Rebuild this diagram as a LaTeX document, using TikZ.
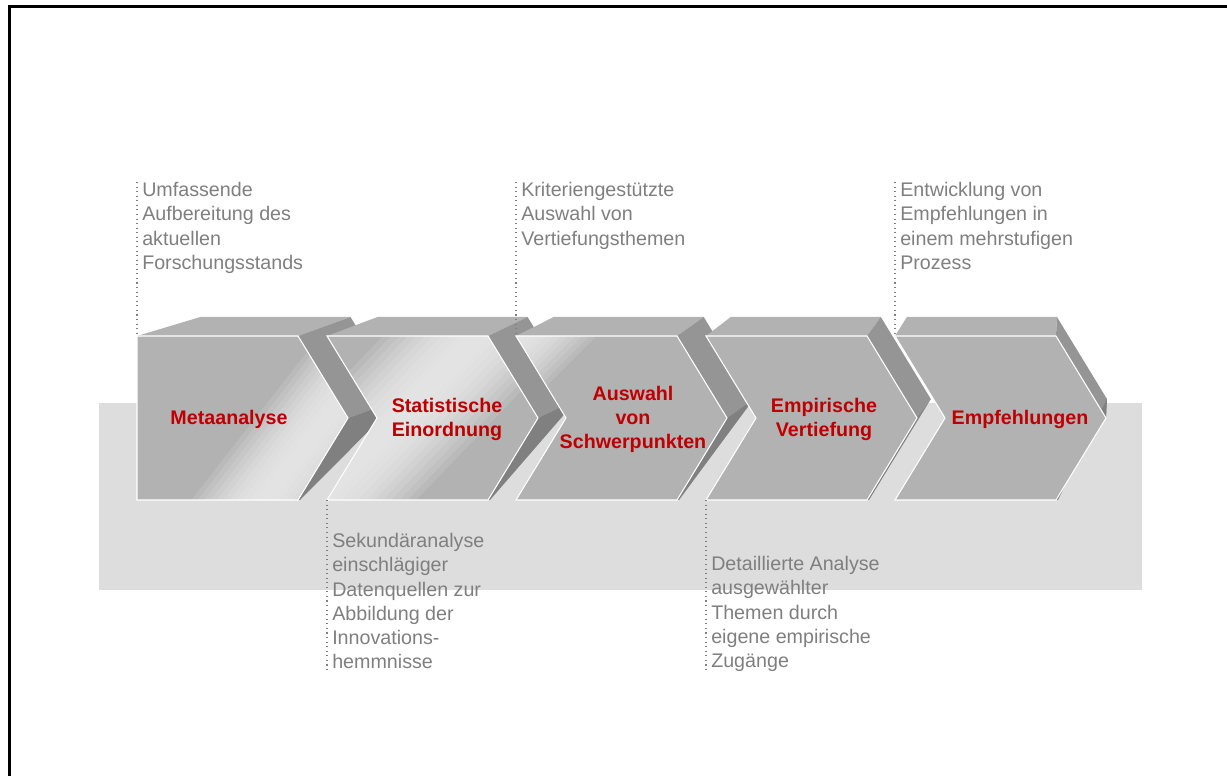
\documentclass[tikz,border=0pt]{standalone}
\usepackage{fontspec}
\setmainfont{Liberation Sans}
\definecolor{facegray}{HTML}{B2B2B2}
\definecolor{sidegray}{HTML}{959595}
\definecolor{lowgray}{HTML}{808080}
\definecolor{shinegray}{HTML}{E3E3E3}
\definecolor{bandgray}{HTML}{DDDDDD}
\definecolor{labelred}{HTML}{C00000}
\definecolor{notegray}{HTML}{7F7F7F}
\tikzset{
  steplabel/.style={font=\fontsize{11.2}{13.7}\selectfont\bfseries, text=labelred, align=center},
  note/.style={font=\fontsize{11.2}{13.8}\selectfont, text=notegray, align=left, inner xsep=2.8pt, inner ysep=0pt},
  guide/.style={dotted, draw=gray, line width=0.6pt}
}
\begin{document}
\begin{tikzpicture}[x=0.02cm, y=-0.02cm]
  \useasboundingbox (0,0) rectangle (1227,776);
  % Rahmen und Band
  \draw[line width=1.4pt] (9.5,776) -- (9.5,6.7) -- (1227,6.7);
  \fill[bandgray] (99,403) rectangle (1142,590);
  % die fuenf Pfeile, von links nach rechts
  \foreach \x/\nd/\lx/\shx/\shy/\sha/\shw/\name/\txt in {
      137/0/92/292/465/52/5/meta/Metaanalyse,
      327/50/120/400/418/46/6/stat/{Statistische\\Einordnung},
      516/50/117/516/336/45/5/ausw/{Auswahl\\von\\Schwerpunkten},
      706/50/118/0/0/0/0/emp/{Empirische\\Vertiefung},
      895/50/125/0/0/0/0/empf/Empfehlungen}
  {
    \pgfmathsetmacro\dl{0.068*(1070-\x)}
    \pgfmathsetmacro\dr{0.068*(1070-\x-161)}
    \fill[facegray] (\x,336) -- ++(\dl,-19) -- (\x+161+\dr,317) -- (\x+161,336) -- cycle;
    \fill[sidegray] (\x+161,336) -- (\x+161+\dr,317) -- (\x+211+\dr,399) -- (\x+211,418) -- cycle;
    \fill[lowgray] (\x+211,418) -- (\x+211+\dr,399) -- (\x+163,500) -- (\x+161,500) -- cycle;
    \def\front{(\x,336) -- (\x+161,336) -- (\x+211,418) -- (\x+161,500) -- (\x,500) -- (\x+\nd,418) -- cycle}
    \fill[facegray] \front;
    % Glanzstreifen
    \ifnum\shw>0
      \begin{scope}
        \clip \front;
        \foreach \k in {-12,...,12} {
          \pgfmathsetmacro\mix{100*(1-(\k/12)^2)}
          \fill[shinegray!\mix!facegray, rotate around={\sha:(\shx,\shy)}]
            (\shx-200,\shy+\k*\shw-\shw/2-0.3) rectangle (\shx+200,\shy+\k*\shw+\shw/2+0.3);
        }
      \end{scope}
    \fi
    \draw[white, line width=0.6pt] \front;
    \coordinate (\name-tl) at (\x,336);
    \coordinate (\name-bl) at (\x,500);
    \node[steplabel] (\name) at (\x+\lx,419) {\txt};
  }
  % Erlaeuterungen
  \node[note, anchor=north west] (n-meta) at (137,182) {Umfassende\\Aufbereitung des\\aktuellen\\Forschungsstands};
  \node[note, anchor=north west] (n-ausw) at (516,182) {Kriteriengestützte\\Auswahl von\\Vertiefungsthemen};
  \node[note, anchor=north west] (n-empf) at (895,182) {Entwicklung von\\Empfehlungen in\\einem mehrstufigen\\Prozess};
  \node[note, anchor=north west] (n-stat) at (327,533) {Sekundäranalyse\\einschlägiger\\Datenquellen zur\\Abbildung der\\Innovations-\\hemmnisse};
  \node[note, anchor=north west] (n-emp) at (706,556) {Detaillierte Analyse\\ausgewählter\\Themen durch\\eigene empirische\\Zugänge};
  \draw[guide] (n-meta.north west) -- (meta-tl);
  \draw[guide] (n-ausw.north west) -- (ausw-tl);
  \draw[guide] (n-empf.north west) -- (empf-tl);
  \draw[guide] (stat-bl) -- (n-stat.south west);
  \draw[guide] (emp-bl) -- (n-emp.south west);
\end{tikzpicture}
\end{document}
